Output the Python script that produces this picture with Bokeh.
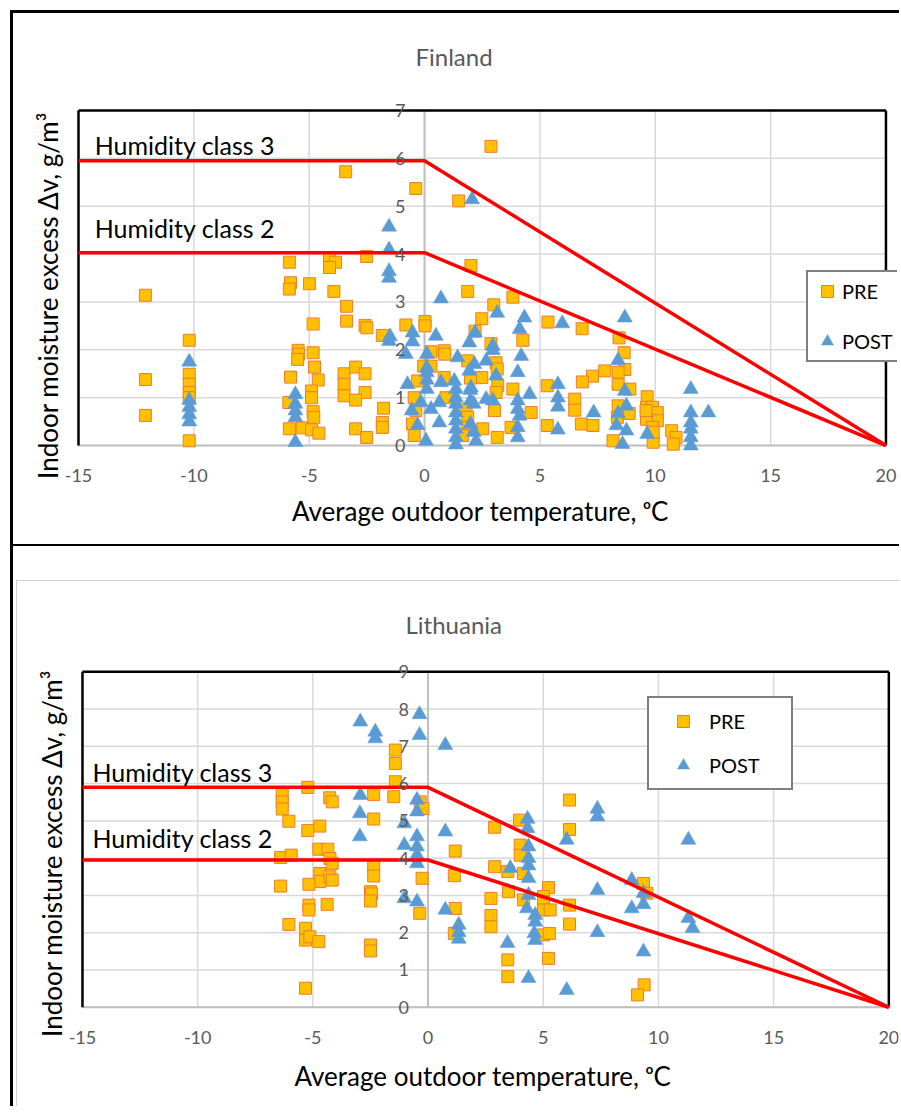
from bokeh.plotting import figure
from bokeh.models import (Range1d, FixedTicker, Label, LabelSet, ColumnDataSource,
                          Legend, LegendItem)
from bokeh.layouts import column
from bokeh.embed import file_html
from bokeh.resources import INLINE
from bokeh.core.properties import value

FONT = "Lato"

# ---------------- data ----------------
x_ticks = [-15, -10, -5, 0, 5, 10, 15, 20]
x_labels = ["-15", "-10", "-5", "0", "5", "10", "15", "20"]
fin_y_ticks = [0, 1, 2, 3, 4, 5, 6, 7]
lit_y_ticks = [0, 1, 2, 3, 4, 5, 6, 7, 8, 9]

class_x = [-15, 0, 20]
fin_class3_y = [5.95, 5.95, 0]
fin_class2_y = [4.03, 4.03, 0]
lit_class3_y = [5.9, 5.9, 0]
lit_class2_y = [3.95, 3.95, 0]

fin_pre_x = [-12.1, -12.1, -12.1, -10.2, -10.2, -10.2, -10.2, -10.2, -10.2,
             -5.86, -5.81, -5.86, -4.99, -4.12, -3.86, -4.12, -2.51, -3.93, -3.38, -4.83, -3.38,
             -2.58, -2.5, -1.83, -5.48, -5.46, -5.5, -4.83, -4.77, -5.81, -4.61, -4.9, -4.9, -5.88,
             -4.83, -4.8, -5.86, -5.3, -4.9, -4.58, -3.49, -3.49, -3.49, -2.99, -2.58, -2.58, -2.99,
             -2.99, -2.51, -1.78, -1.83, -1.83,
             -3.42, -0.38, 1.48, 2.88, 2.01, 1.87, 3.83, 3.0,
             -0.81, 0.02, 0.02, 2.48, 2.19, 4.26, 2.88, 0.28, 0.85, 0.88, -0.04, 0.28, 3.1, 3.15,
             1.87, 0.85, 2.48, 1.99, -0.3, 3.17, 3.1, 3.83, -0.45, 0.93, 3.03, 1.8, 4.62, -0.38,
             -0.52, -0.45, 1.87, 1.87, 2.52, 1.65, 3.15, 3.75,
             5.35, 6.83, 8.43, 8.65, 8.68, 8.39, 7.81, 7.28, 6.84, 8.9, 8.39, 8.39, 8.36, 8.87,
             8.17, 9.65, 9.62, 9.88, 10.09, 10.09, 9.62, 9.88, 9.91, 10.71, 10.9, 10.78, 6.51,
             6.51, 6.8, 7.3, 5.32, 5.32, 9.6, 9.91]
fin_pre_y = [3.14, 1.38, 0.63, 2.2, 1.49, 1.28, 1.11, 1.0, 0.1,
             3.83, 3.40, 3.27, 3.38, 3.90, 3.83, 3.72, 3.95, 3.22, 2.91, 2.54, 2.60,
             2.51, 2.46, 2.30, 1.99, 1.91, 1.80, 1.94, 1.64, 1.43, 1.37, 1.14, 1.0, 0.90,
             0.71, 0.59, 0.35, 0.37, 0.33, 0.26, 1.50, 1.28, 1.04, 1.64, 1.50, 1.11, 0.95,
             0.35, 0.17, 0.78, 0.48, 0.38,
             5.72, 5.37, 5.11, 6.25, 3.76, 3.22, 3.10, 2.94,
             2.52, 2.59, 2.50, 2.65, 2.39, 2.20, 2.13, 1.96, 1.98, 1.91, 1.66, 1.66, 1.73, 1.60,
             1.77, 1.42, 1.42, 1.41, 1.35, 1.25, 1.11, 1.18, 1.0, 1.0, 0.73, 0.76, 0.69, 0.73,
             0.45, 0.21, 0.59, 0.38, 0.35, 0.21, 0.17, 0.38,
             2.58, 2.44, 2.25, 1.94, 1.59, 1.53, 1.56, 1.45, 1.33, 1.18, 1.28, 0.83, 0.59, 0.67,
             0.10, 1.02, 0.80, 0.80, 0.69, 0.52, 0.55, 0.38, 0.07, 0.31, 0.17, 0.03, 0.97,
             0.74, 0.45, 0.42, 0.42, 1.25, 0.73, 0.28]

fin_post_x = [-10.2, -10.2, -10.2, -10.2, -10.2,
              -5.6, -5.6, -5.6, -5.6, -5.6,
              -1.54, -1.54, -1.54, -1.54, -1.54, -1.5, 2.06,
              0.71, 3.15, 4.33, 4.12, -0.52, -0.52, -0.81, 0.49, 2.19, 1.94, 2.96, 2.96, 4.19,
              1.43, 2.67, 0.1, 0.1, 0.1, 0.1, 0.1, 2.16, 1.94, 4.04, 3.1, -0.74, 0.71, 1.29,
              2.01, 1.36, 1.36, 1.36, 1.36, 1.36, 1.36, 1.36, 1.36, -0.16, 0.28, 0.64, -0.56,
              0.64, -0.3, 0.06, 1.99, 1.99, 2.13, 2.67, 2.96, 1.99, 2.13, 2.23, 4.04, 4.04, 4.12,
              4.04, 4.04, 4.55,
              5.97, 8.68, 5.78, 5.78, 5.78, 5.78, 7.33, 8.39, 8.68, 8.75, 8.39, 8.32, 8.75, 8.58,
              9.65, 11.54, 11.54, 11.54, 11.54, 11.54, 11.54, 12.3]
fin_post_y = [1.75, 0.95, 0.8, 0.65, 0.5,
              1.07, 0.87, 0.73, 0.59, 0.07,
              4.57, 4.09, 3.64, 3.5, 2.18, 2.28, 5.14,
              3.07, 2.77, 2.67, 2.43, 2.36, 2.17, 1.91, 2.29, 2.36, 2.15, 2.08, 1.99, 1.87,
              1.84, 1.77, 1.91, 1.63, 1.53, 1.37, 1.18, 1.70, 1.56, 1.53, 1.46, 1.28, 1.32, 1.35,
              1.21, 1.18, 1.0, 0.87, 0.69, 0.52, 0.35, 0.17, 0.02, 0.90, 0.76, 0.90, 0.73,
              0.48, 0.42, 0.10, 1.16, 0.94, 0.87, 0.97, 0.94, 0.45, 0.28, 0.10, 0.94, 0.76, 0.62,
              0.38, 0.17, 1.07,
              2.55, 2.67, 1.28, 1.0, 0.81, 0.33, 0.69, 1.78, 1.14, 0.83, 0.67, 0.42, 0.31, 0.03,
              0.24, 1.18, 0.69, 0.48, 0.35, 0.17, 0.0, 0.69]

lit_pre_x = [-1.42, -1.42, -1.42, -1.49, -2.36, -5.22, -6.33, -6.33, -4.27, -4.16,
             -6.33, -6.04, -5.22, -4.7, -6.4, -5.94, -4.74, -4.35, -4.26, -4.16, -4.7, -4.7,
             -4.26, -4.16, -5.17, -6.4, -5.17, -5.17, -4.38, -6.04, -5.32, -5.32, -5.13, -4.74,
             -5.32, -2.5, -2.5, -2.36, -2.36, -2.36, -2.5, -2.45, -2.5, -0.26, -0.36, -0.34, -0.22,
             1.18, 2.89, 3.97, 4.0, 4.0, 2.89, 3.46, 4.14, 6.14, 6.14, 1.14, 9.35,
             1.18, 1.14, 3.49, 2.73, 2.73, 2.73, 4.14, 3.46, 3.46, 5.23, 5.01, 5.01, 5.01, 5.3,
             5.01, 5.27, 5.23, 6.14, 6.14, 9.49, 9.38, 9.09]
lit_pre_y = [6.90, 6.54, 6.05, 5.65, 5.71, 5.90, 5.71, 5.51, 5.62, 5.51,
             5.32, 4.99, 4.74, 4.86, 4.02, 4.08, 4.24, 4.24, 3.99, 3.86, 3.59, 3.37,
             3.50, 3.41, 3.30, 3.25, 2.74, 2.61, 2.76, 2.22, 2.12, 1.80, 1.89, 1.76,
             0.51, 1.67, 1.51, 5.05, 3.80, 3.52, 3.10, 3.04, 2.85, 3.46, 2.52, 5.51, 5.33,
             4.19, 4.83, 5.02, 4.35, 4.08, 3.77, 3.64, 3.59, 5.56, 4.77, 3.53, 3.32,
             2.65, 1.98, 3.10, 2.92, 2.46, 2.16, 2.88, 1.27, 0.82, 3.21, 2.97, 2.83, 2.61, 2.61,
             1.94, 1.98, 1.31, 2.74, 2.23, 3.06, 0.60, 0.33]

lit_post_x = [-2.94, -2.29, -2.29, -0.37, -0.37, 0.75, -2.94,
              -2.96, -2.96, -1.03, -1.03, -1.03, -0.48, -0.48, -0.48, -0.48, -0.48, -0.48, -0.48,
              0.75, 0.75,
              4.32, 4.32, 4.36, 4.36, 4.36, 4.36, 7.35, 7.35, 6.02, 3.57, 8.84,
              1.33, 1.33, 1.33, 3.45, 4.36, 4.29, 4.65, 4.65, 4.61, 4.65, 4.36, 6.02, 7.35, 7.35,
              8.84, 9.35, 9.35, 9.35, 11.3, 11.3, 11.48]
lit_post_y = [7.66, 7.39, 7.21, 7.86, 7.30, 7.03, 5.69,
              5.20, 4.58, 4.93, 4.35, 2.92, 5.56, 5.25, 4.58, 4.31, 4.08, 3.86, 2.83,
              4.71, 2.61,
              5.05, 4.80, 4.31, 4.0, 3.8, 3.46, 5.32, 5.11, 4.49, 3.73, 3.41,
              2.21, 2.01, 1.83, 1.72, 3.01, 2.65, 2.47, 2.29, 1.98, 1.80, 0.78, 0.46, 3.14, 2.01,
              2.65, 3.06, 2.76, 1.49, 4.49, 2.39, 2.12]

X_TITLE = "Average outdoor temperature, \u1d52C"
Y_TITLE = "Indoor moisture excess \u0394v, g/m\u00b3"


def make_panel(title, pre_x, pre_y, post_x, post_y, c3, c2, y_ticks, g):
    x0, x1 = x_ticks[0], x_ticks[-1]
    y_max = y_ticks[-1]
    p = figure(width=g["w"], height=g["h"], output_backend="svg", toolbar_location=None,
               title=title,
               x_range=Range1d(x0 - g["xpl"], x1 + g["xpr"]),
               y_range=Range1d(0 - g["ypb"], y_max + g["ypt"]),
               min_border_left=g["bl"], min_border_right=g["br"],
               min_border_top=g["bt"], min_border_bottom=g["bb"],
               background_fill_color="white", border_fill_color="white",
               styles=g["styles"], margin=g["margin"])
    p.outline_line_color = None
    p.xgrid.visible = False
    p.ygrid.visible = False

    # chart title
    t = p.title
    t.align = "left"
    t.offset = g["t_off"]
    t.standoff = g["t_so"]
    t.vertical_align = "middle"
    t.text_font = FONT
    t.text_font_size = "24px"
    t.text_font_style = "normal"
    t.text_color = "#595959"

    # x axis: only its title (tick labels are drawn under the y = 0 line)
    xa = p.xaxis[0]
    xa.ticker = FixedTicker(ticks=[])
    xa.axis_line_color = None
    xa.major_tick_line_color = None
    xa.minor_tick_line_color = None
    xa.major_label_standoff = 0
    xa.axis_label = X_TITLE
    xa.axis_label_text_font = FONT
    xa.axis_label_text_font_size = "26px"
    xa.axis_label_text_font_style = "normal"
    xa.axis_label_text_color = "black"
    xa.axis_label_standoff = g["xlab_standoff"]

    # y axis: only its title (tick labels are drawn beside the x = 0 line)
    ya = p.yaxis[0]
    ya.ticker = FixedTicker(ticks=[])
    ya.axis_line_color = None
    ya.major_tick_line_color = None
    ya.minor_tick_line_color = None
    ya.major_label_standoff = 0
    ya.axis_label = Y_TITLE
    ya.axis_label_text_font = FONT
    ya.axis_label_text_font_size = "26px"
    ya.axis_label_text_font_style = "normal"
    ya.axis_label_text_color = "black"
    ya.axis_label_standoff = g["ylab_standoff"]

    # gridlines and plot-area border
    nx, ny = len(x_ticks), len(y_ticks)
    p.segment(x0=x_ticks, y0=[0] * nx, x1=x_ticks, y1=[y_max] * nx,
              line_color="#d9d9d9", line_width=1.5, level="underlay")
    p.segment(x0=[x0] * ny, y0=y_ticks, x1=[x1] * ny, y1=y_ticks,
              line_color="#d9d9d9", line_width=1.5, level="underlay")
    p.segment(x0=[0, x0], y0=[0, 0], x1=[0, x1], y1=[y_max, 0], line_color="#bfbfbf",
              line_width=2, level="underlay")
    p.segment(x0=[x0, x0, x1], y0=[0, y_max, 0], x1=[x0, x1, x1], y1=[y_max, y_max, y_max],
              line_color="black", line_width=2.5, level="underlay")

    r_pre = p.scatter(pre_x, pre_y, marker="square", size=12, fill_color="#FFC000",
                      line_color="#ED7D31", line_width=1)
    r_post = p.scatter(post_x, post_y, marker="triangle", size=15, fill_color="#5B9BD5",
                       line_color="#5B9BD5", line_width=0.5)
    p.line(class_x, c3, line_color="#FF0000", line_width=3.5)
    p.line(class_x, c2, line_color="#FF0000", line_width=3.5)

    ysrc = ColumnDataSource(dict(x=[0] * ny, y=y_ticks, t=[str(v) for v in y_ticks]))
    p.add_layout(LabelSet(x="x", y="y", text="t", source=ysrc, x_offset=-19,
                          text_align="right", text_baseline="middle",
                          text_font=value(FONT), text_font_size=value("18px"),
                          text_color="#595959"))
    xsrc = ColumnDataSource(dict(x=x_ticks, y=[0] * nx, t=x_labels))
    p.add_layout(LabelSet(x="x", y="y", text="t", source=xsrc, y_offset=-30,
                          text_align="center", text_baseline="middle",
                          text_font=value(FONT), text_font_size=value("18px"),
                          text_color="#595959"))

    p.add_layout(Label(x=g["hx"], y=g["h3y"], text="Humidity class 3", text_align="left",
                       text_baseline="middle", text_font=FONT, text_font_size="25px",
                       text_color="black"))
    p.add_layout(Label(x=g["hx"], y=g["h2y"], text="Humidity class 2", text_align="left",
                       text_baseline="middle", text_font=FONT, text_font_size="25px",
                       text_color="black"))

    leg = Legend(items=[LegendItem(label="PRE", renderers=[r_pre]),
                        LegendItem(label="POST", renderers=[r_post])],
                 location=g["leg_loc"], padding=g["leg_pad"], spacing=g["leg_sp"],
                 glyph_width=g["leg_gw"], glyph_height=30, label_height=30,
                 label_standoff=g["leg_so"], label_width=g["leg_lw"], margin=0,
                 border_line_color="black", border_line_width=2,
                 background_fill_color="white", background_fill_alpha=1.0,
                 label_text_font=FONT, label_text_font_size="20px",
                 label_text_color="black")
    p.add_layout(leg)
    return p


g_fin = dict(w=886, h=536, bl=49, br=2, bt=83, bb=57, ylab_standoff=0, xlab_standoff=2,
             xpl=0.65, xpr=0.5, ypt=0.25, ypb=0.98,
             styles={"border-top": "3px solid black", "border-bottom": "2px solid black"},
             margin=(0, 0, 0, 0), t_off=352, t_so=54,
             hx=-14.3, h3y=6.28, h2y=4.54,
             leg_loc=(743, 130), leg_pad=4, leg_sp=20, leg_gw=30, leg_so=0, leg_lw=80)
g_lit = dict(w=883, h=526, bl=50, br=1, bt=81, bb=63, ylab_standoff=0, xlab_standoff=15,
             xpl=0.65, xpr=0.42, ypt=0.25, ypb=1.0,
             styles={"border-top": "1px solid #d0d0d0", "border-left": "1px solid #d0d0d0"},
             margin=(34, 0, 0, 3), t_off=338, t_so=46,
             hx=-14.57, h3y=6.32, h2y=4.53,
             leg_loc=(580, 254), leg_pad=8, leg_sp=14, leg_gw=52, leg_so=0, leg_lw=74)

p1 = make_panel("Finland", fin_pre_x, fin_pre_y, fin_post_x, fin_post_y,
                fin_class3_y, fin_class2_y, fin_y_ticks, g_fin)
p2 = make_panel("Lithuania", lit_pre_x, lit_pre_y, lit_post_x, lit_post_y,
                lit_class3_y, lit_class2_y, lit_y_ticks, g_lit)

layout = column(p1, p2, styles={"border-left": "3px solid black"}, spacing=0,
                margin=(10, 0, 0, 10))

open("out.html", "w").write(file_html(layout, INLINE))
